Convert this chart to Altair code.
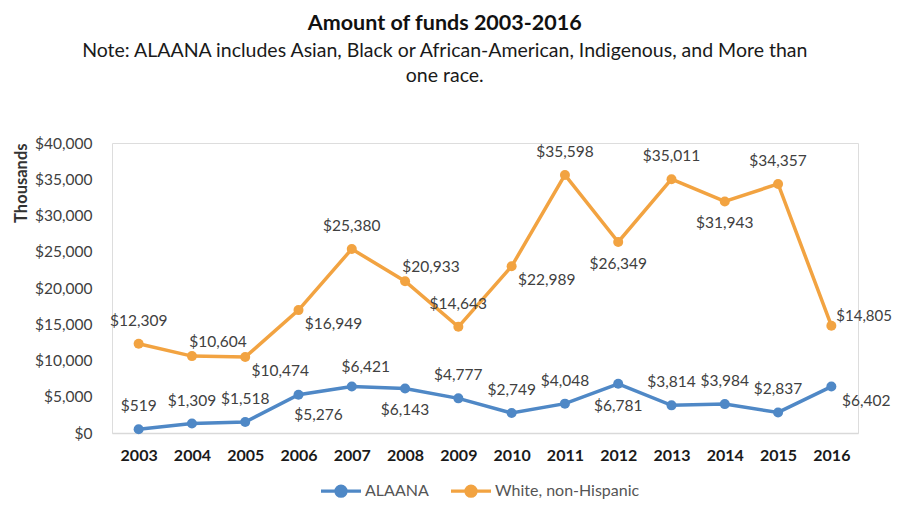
import altair as alt
import pandas as pd

years = ["2003", "2004", "2005", "2006", "2007", "2008", "2009",
         "2010", "2011", "2012", "2013", "2014", "2015", "2016"]
alaana = [519, 1309, 1518, 5276, 6421, 6143, 4777, 2749, 4048, 6781, 3814, 3984, 2837, 6402]
white = [12309, 10604, 10474, 16949, 25380, 20933, 14643, 22989, 35598, 26349, 35011, 31943, 34357, 14805]
series_names = ["ALAANA", "White, non-Hispanic"]
# label placement codes (compass direction of the label relative to its point)
alaana_label_pos = ["N", "N", "N", "SSE", "NNE", "S", "N", "N", "N", "S", "N", "N", "N", "SE"]
white_label_pos = ["N", "NE", "SE", "SE", "N", "NE", "N", "SE", "N", "S", "N", "S", "N", "E"]

# (dx, dy, align) per placement code
offsets = {"N": (0, -23, "center"), "S": (0, 22, "center"), "NE": (26, -14, "center"),
           "SE": (35, 14, "center"), "SSE": (20, 20, "center"), "NNE": (14, -19, "center"),
           "E": (5, -10, "left")}

blue = "#4F88C6"
orange = "#F2A341"
FONT = "Lato"

rows = []
for name, vals, pos in [(series_names[0], alaana, alaana_label_pos),
                        (series_names[1], white, white_label_pos)]:
    for y, v, p in zip(years, vals, pos):
        rows.append({"year": y, "series": name, "value": v, "pos": p})
df = pd.DataFrame(rows)

x_enc = alt.X("year:O", sort=years,
              scale=alt.Scale(type="point", padding=0.5),
              axis=alt.Axis(title=None, labelAngle=0, labelFontWeight="bold",
                            labelFontSize=16, labelColor="#1a1a1a", ticks=False,
                            domainColor="#d9d9d9", domainWidth=1.5, labelPadding=14))
y_enc = alt.Y("value:Q",
              scale=alt.Scale(domain=[0, 40000], nice=False),
              axis=alt.Axis(title="Thousands", values=list(range(0, 40001, 5000)),
                            format="$,.0f", grid=False, domain=False, ticks=False,
                            labelPadding=20, labelFontSize=15.5, labelColor="#404040",
                            titleFontSize=16.5, titleFontWeight="bold", titleColor="#333333",
                            titleAnchor="end", titlePadding=5))

legend_symbol = "M-1,0L1,0M0.25,0A0.25,0.25,0,1,1,-0.25,0A0.25,0.25,0,1,1,0.25,0Z"

base = alt.Chart(df).encode(x=x_enc, y=y_enc)

line = base.mark_line(strokeWidth=3.5,
                      point=alt.OverlayMarkDef(filled=True, size=100)).encode(
    color=alt.Color("series:N",
                    scale=alt.Scale(domain=series_names, range=[blue, orange]),
                    legend=alt.Legend(title=None, orient="none", direction="horizontal",
                                      legendX=207, legendY=326,
                                      labelFontSize=16, labelColor="#555555",
                                      symbolType=legend_symbol, symbolSize=1600,
                                      symbolStrokeWidth=3.3, columnPadding=15,
                                      labelOffset=2))
)

texts = []
for code, (dx, dy, align) in offsets.items():
    texts.append(
        base.mark_text(dx=dx, dy=dy, fontSize=15.5 if code != "E" else 15,
                       color="#404040", baseline="middle", align=align)
        .encode(text=alt.Text("value:Q", format="$,.0f"))
        .transform_filter(alt.datum.pos == code)
    )

chart = alt.layer(line, *texts).properties(
    width=746, height=290,
    autosize=alt.AutoSizeParams(type="none"),
    padding={"left": 104, "top": 135, "right": 34, "bottom": 69},
    title=alt.TitleParams(
        text="Amount of funds 2003-2016",
        subtitle=["Note: ALAANA includes Asian, Black or African-American, Indigenous, and More than",
                  "one race."],
        fontSize=21.5, font=FONT, color="#111111", fontWeight="bold",
        subtitleFont=FONT, subtitleFontSize=19.5, subtitleColor="#1a1a1a",
        subtitleLineHeight=25, subtitlePadding=7,
        anchor="middle", frame="bounds", offset=51, dx=-8)
).configure_view(stroke=None).configure(font=FONT)

chart.save("out.html", embed_options={"renderer": "svg", "actions": False})
